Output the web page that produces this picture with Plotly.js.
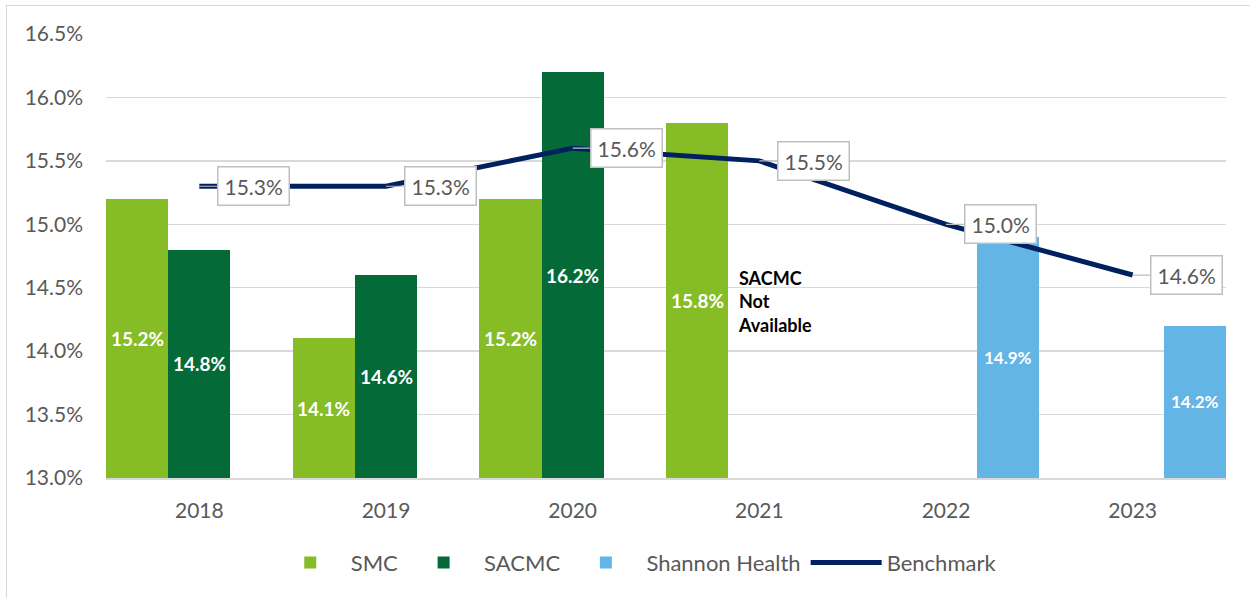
<!DOCTYPE html>
<html><head><meta charset="utf-8">
<script src="https://cdn.plot.ly/plotly-3.0.1.min.js"></script>
<style>
body{margin:0;background:#fff;overflow:hidden;}
#wrap{position:relative;width:1250px;height:598px;overflow:hidden;}
#chart{width:1250px;height:598px;}
#frame{position:absolute;left:6px;top:5px;width:1260px;height:610px;border:1.5px solid #d9d9d9;pointer-events:none;}
</style></head>
<body>
<div id="wrap"><div id="chart"></div><div id="frame"></div></div>
<script>
const years = ['2018','2019','2020','2021','2022','2023'];
const smc = [15.2, 14.1, 15.2, 15.8, null, null];
const sacmc = [14.8, 14.6, 16.2, null, null, null];
const shannon = [null, null, null, null, 14.9, 14.2];
const benchmark = [15.3, 15.3, 15.6, 15.5, 15.0, 14.6];
const yTicks = [13.0, 13.5, 14.0, 14.5, 15.0, 15.5, 16.0, 16.5];
const naNote = 'SACMC<br>Not<br>Available';
const naYearIndex = 3;
const naY = 14.39;

const Y_MIN = 13.0, Y_MAX = 16.5;
const FONT = 'Lato, "Open Sans", sans-serif';
const xi = years.map((_, i) => i);
const fmt = v => v.toFixed(1) + '%';

const series = [
  {name:'SMC', vals:smc, color:'#86bc25', size:19, off:-1/3},
  {name:'SACMC', vals:sacmc, color:'#046a38', size:19, off:0},
  {name:'Shannon Health', vals:shannon, color:'#62b5e5', size:17, off:1/3}
];

const traces = series.map(s => ({
  type:'bar', name:s.name, x:xi, y:s.vals, marker:{color:s.color},
  hoverinfo:'skip'
}));
traces.push({type:'scatter', mode:'lines', name:'Benchmark', x:xi, y:benchmark,
  line:{color:'#002060', width:5}, hoverinfo:'skip'});

const annotations = [];
// value labels in the middle of the visible part of each bar
series.forEach(s => s.vals.forEach((v, i) => {
  if (v == null) return;
  annotations.push({x: i + s.off, y: (Y_MIN + v) / 2, xref:'x', yref:'y',
    text: fmt(v), showarrow:false, xanchor:'center', yanchor:'middle',
    font:{family:FONT, size:s.size, color:'#ffffff', weight:'bold'}});
}));
// benchmark callouts
benchmark.forEach((v, i) => annotations.push({
  x: i, y: v, xref:'x', yref:'y',
  text: fmt(v), showarrow:true, arrowhead:0, arrowwidth:1.2,
  arrowcolor:'#bfbfbf', ax:54, ay:0, standoff:0,
  bgcolor:'#ffffff', bordercolor:'#bfbfbf', borderwidth:1.5, borderpad:6,
  font:{family:FONT, size:21, color:'#595959'}
}));
annotations.push({
  x: naYearIndex, y: naY, xref:'x', yref:'y', text: naNote, showarrow:false,
  xanchor:'left', yanchor:'middle', align:'left', xshift:-23,
  font:{family:FONT, size:18, color:'#000000', weight:'bold'}
});

const layout = {
  width:1250, height:598,
  margin:{l:106, r:24, t:34, b:120},
  paper_bgcolor:'#ffffff', plot_bgcolor:'#ffffff',
  barmode:'group', bargap:0, bargroupgap:0,
  font:{family:FONT, color:'#595959', size:21},
  showlegend:true,
  legend:{orientation:'h', x:0.473, xanchor:'center', y:-0.191, yanchor:'middle',
    font:{family:FONT, size:22, color:'#595959'}, traceorder:'normal', itemwidth:71},
  xaxis:{type:'linear', range:[-0.5, 5.5], tickvals:xi, ticktext:years,
    showgrid:false, zeroline:false, showline:true, linecolor:'#d9d9d9', linewidth:1.5,
    ticks:'', tickfont:{family:FONT, size:21, color:'#595959'}, ticklabelstandoff:13},
  yaxis:{range:[Y_MIN, Y_MAX], tickvals:yTicks, ticktext:yTicks.map(fmt),
    showgrid:true, gridcolor:'#d9d9d9', gridwidth:1.5, zeroline:false, showline:false,
    ticks:'', tickfont:{family:FONT, size:21, color:'#595959'}, ticklabelstandoff:22},
  annotations:annotations
};

Plotly.newPlot('chart', traces, layout, {displayModeBar:false, staticPlot:true});
</script>
</body></html>
